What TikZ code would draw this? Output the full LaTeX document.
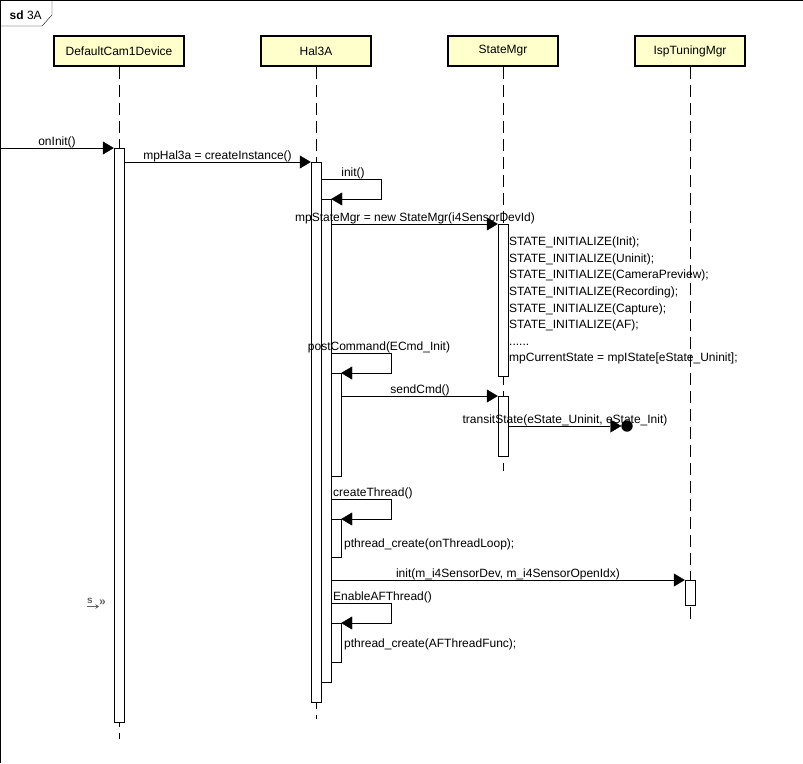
\documentclass[tikz,border=0pt]{standalone}
\usepackage{fontspec}
\setmainfont{Liberation Sans}
\usetikzlibrary{arrows.meta}

\definecolor{headfill}{HTML}{FFFFCC}
\definecolor{icongray}{HTML}{606060}
\newcommand\sixdots{......}

\tikzset{
    head/.style={draw, line width=2pt, fill=headfill, inner sep=0, minimum height=30pt},
    lifeline/.style={dash pattern=on 12pt off 6pt},
    actbar/.style={draw, fill=white, inner sep=0, minimum width=10pt, anchor=north},
    msg/.style={-{Triangle[length=11pt, width=13pt]}},
    lbl/.style={anchor=base, inner sep=0},
    lblw/.style={anchor=base west, inner sep=0},
}

\begin{document}
\begin{tikzpicture}[x=1pt, y=-1pt, font=\fontsize{12pt}{16.6pt}\selectfont]
    \useasboundingbox (0,0) rectangle (803,763);
    % frame
    \draw (0.5,763) -- (0.5,0.5) -- (803,0.5);
    \draw (0.5,26) -- (42,26) -- (52,15) -- (52,0.5);
    \node[lblw] (frameTitle) at (9.5,19.5) {\textbf{sd} 3A};

    % lifeline heads
    \node[head, minimum width=130pt] (dcHead) at (119,51) {DefaultCam1Device};
    \node[head, minimum width=110pt] (halHead) at (316,51) {Hal3A};
    \node[head, minimum width=110pt] (smHead) at (503,51) {StateMgr};
    \node[head, minimum width=110pt] (ispHead) at (690,51) {IspTuningMgr};
    \draw [lifeline] (dcHead.south) -- ++(0,672);
    \draw [lifeline] (halHead.south) -- ++(0,652);
    \draw [lifeline] (smHead.south) -- ++(0,404);
    \draw [lifeline] (ispHead.south) -- ++(0,552);

    % activation bars
    \node[actbar, minimum height=574pt] (dcAct) at (119,148) {};
    \node[actbar, minimum height=540pt] (halAct) at (316,162) {};
    \node[actbar, minimum height=483pt] (initAct) at (326,199) {};
    \node[actbar, minimum height=103pt] (postAct) at (336,373) {};
    \node[actbar, minimum height=38pt] (thrAct) at (336,519) {};
    \node[actbar, minimum height=39pt] (afAct) at (336,623) {};
    \node[actbar, minimum height=152pt] (smAct) at (503,224) {};
    \node[actbar, minimum height=60pt] (cmdAct) at (503,396) {};
    \node[actbar, minimum height=25pt] (ispAct) at (690,580) {};

    % messages
    \coordinate (entry) at (0.5,148);
    \draw [msg] (entry) -- (dcAct.north west);
    \node[lbl] (onInitLbl) at (57,145) {onInit()};

    \draw [msg] (dcAct.east |- halAct.north) -- (halAct.north west);
    \node[lbl] (createLbl) at (217.5,159) {mpHal3a = createInstance()};

    \coordinate (initTop) at (381,179);
    \draw [msg] (halAct.east |- initTop) -- (initTop) -- (initTop |- initAct.north) -- (initAct.north east);
    \node[lbl] (initLbl) at (353,176.5) {init()};

    \draw [msg] (initAct.east |- smAct.north) -- (smAct.north west);
    \node[lbl] (newSmLbl) at (415,221) {mpStateMgr = new StateMgr(i4SensorDevId)};

    \foreach \txt [count=\i] in {STATE\_INITIALIZE(Init);, STATE\_INITIALIZE(Uninit);,
        STATE\_INITIALIZE(CameraPreview);, STATE\_INITIALIZE(Recording);,
        STATE\_INITIALIZE(Capture);, STATE\_INITIALIZE(AF);, \sixdots,
        mpCurrentState = mpIState[eState\_Uninit];}
        \node[lblw] (smNote\i) at (509,229+16.6*\i) {\txt};

    \coordinate (postTop) at (391,353);
    \draw [msg] (initAct.east |- postTop) -- (postTop) -- (postTop |- postAct.north) -- (postAct.north east);
    \node[lbl] (postLbl) at (379,350) {postCommand(ECmd\_Init)};

    \draw [msg] (postAct.east |- cmdAct.north) -- (cmdAct.north west);
    \node[lbl] (sendLbl) at (420,393) {sendCmd()};

    \coordinate (lost) at (627,426);
    \draw [msg] (cmdAct.east |- lost) -- ([xshift=-5.7pt]lost);
    \fill (lost) circle (5.7pt);
    \node[lbl] (transitLbl) at (565,423) {transitState(eState\_Uninit, eState\_Init)};

    \coordinate (thrTop) at (391,499);
    \draw [msg] (initAct.east |- thrTop) -- (thrTop) -- (thrTop |- thrAct.north) -- (thrAct.north east);
    \node[lblw] (thrLbl) at (333,496) {createThread()};
    \node[lblw] (thrNote) at (344,547) {pthread\_create(onThreadLoop);};

    \draw [msg] (initAct.east |- ispAct.north) -- (ispAct.north west);
    \node[lbl] (ispLbl) at (508,577) {init(m\_i4SensorDev, m\_i4SensorOpenIdx)};

    \coordinate (afTop) at (391,603);
    \draw [msg] (initAct.east |- afTop) -- (afTop) -- (afTop |- afAct.north) -- (afAct.north east);
    \node[lblw] (afLbl) at (333,600) {EnableAFThread()};
    \node[lblw] (afNote) at (344,647) {pthread\_create(AFThreadFunc);};

    % step icon
    \node[lblw, icongray, font=\fontsize{10pt}{10pt}\selectfont\bfseries] (iconS) at (87,603) {s};
    \draw [icongray, line width=1.3pt, -{Stealth[length=3.5pt, width=4.5pt]}] (87,606.5) -- (99,606.5);
    \node[lblw, icongray, font=\fontsize{12pt}{12pt}\selectfont\bfseries] (iconFwd) at (99,605) {»};
\end{tikzpicture}
\end{document}
